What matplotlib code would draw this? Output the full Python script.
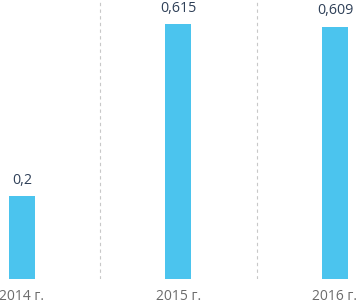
import matplotlib
matplotlib.use("Agg")
import matplotlib.pyplot as plt

years = ["2014 г.", "2015 г.", "2016 г."]
values = [0.2, 0.615, 0.609]
value_labels = ["0,2", "0,615", "0,609"]

bar_color = "#4BC4EE"
text_color = "#2F4058"
tick_color = "#6B6B6B"

plt.rcParams["font.family"] = ["Open Sans", "DejaVu Sans"]

fig = plt.figure(figsize=(3.58, 3.07), dpi=100)
ax = fig.add_axes([0, 28 / 307, 1, 279 / 307])

x = list(range(len(years)))
ax.bar(x, values, width=0.166, color=bar_color)

for xi, v, lab in zip(x, values, value_labels):
    ax.annotate(lab, (xi, v), xytext=(0, 6), textcoords="offset points",
                ha="center", va="bottom", fontsize=10.3, color=text_color)

# dashed separators between years
for sep in [0.5, 1.5]:
    ax.axvline(sep, color="#C8C8C8", lw=0.8, ls=(0, (3, 3)))

ax.set_xlim(-0.14, 2.147)
ax.set_ylim(0, 0.673)
ax.set_xticks(x)
ax.set_xticklabels(years, fontsize=10, color=tick_color)
ax.tick_params(axis="x", length=0, pad=7)
ax.set_yticks([])
for s in ax.spines.values():
    s.set_visible(False)

fig.savefig("out.png", dpi=100)
